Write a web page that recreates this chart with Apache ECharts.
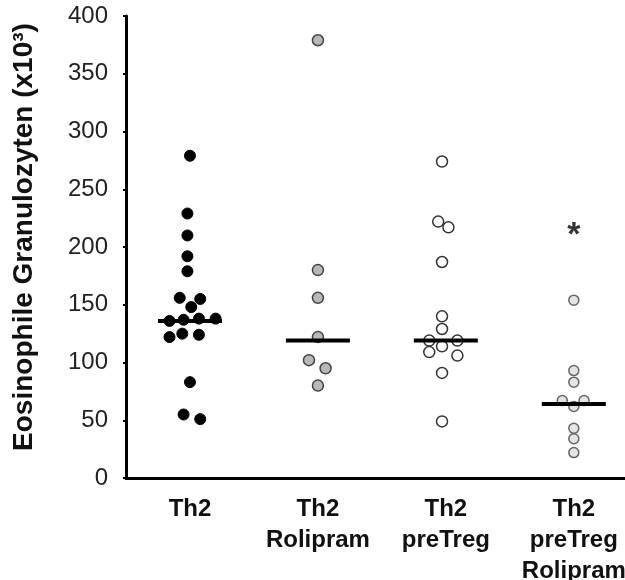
<!DOCTYPE html>
<html>
<head>
<meta charset="utf-8">
<script src="https://cdn.jsdelivr.net/npm/echarts@6/dist/echarts.min.js"></script>
<style>html,body{margin:0;padding:0;background:#fff}#c{width:625px;height:580px}</style>
</head>
<body>
<div id="c"></div>
<script>
// ---- data ----
var categories = ['Th2', 'Th2\nRolipram', 'Th2\npreTreg', 'Th2\npreTreg\nRolipram'];
var yTicks = [0, 50, 100, 150, 200, 250, 300, 350, 400];

var th2Values = [279, 229, 210, 192, 179, 156, 155, 148, 136, 137, 138, 138, 122, 125, 124, 83, 55, 51];
var th2Jitter = [0, -0.02, -0.02, -0.02, -0.02, -0.08, 0.08, 0.01, -0.16, -0.05, 0.07, 0.2, -0.16, -0.06, 0.07, 0, -0.05, 0.08];

var rolValues = [379, 180, 156, 122, 102, 95, 80];
var rolJitter = [0, 0, 0, 0, -0.07, 0.06, 0];

var tregValues = [274, 222, 217, 187, 140, 129, 119, 119, 114, 109, 106, 91, 49];
var tregJitter = [-0.03, -0.06, 0.02, -0.03, -0.03, -0.03, -0.13, 0.09, -0.03, -0.13, 0.09, -0.03, -0.03];

var tregRolValues = [154, 93, 83, 67, 67, 62, 43, 34, 22];
var tregRolJitter = [0, 0, 0, -0.09, 0.08, 0, 0, 0, 0];

var medians = [136, 119, 119, 64];

var sigCategory = [3];
var sigValue = [210];
var sigText = ['*'];

// ---- chart ----
function pts(ci, vals, jit) {
  return vals.map(function (v, i) { return [ci + jit[i], v]; });
}

var chart = echarts.init(document.getElementById('c'), null, { renderer: 'canvas' });
var font = 'Liberation Sans, Arial, sans-serif';

chart.setOption({
  animation: false,
  grid: { left: 126, right: 0, top: 16, bottom: 102, containLabel: false, outerBoundsMode: 'none' },
  xAxis: {
    type: 'value', min: -0.5, max: 3.4,
    splitLine: { show: false },
    axisLine: { show: true, onZero: false, lineStyle: { color: '#000', width: 3 } },
    axisTick: { show: false },
    axisLabel: {
      customValues: [0, 1, 2, 3],
      formatter: function (v) { return categories[Math.round(v)]; },
      fontFamily: font, fontWeight: 'bold', fontSize: 24, lineHeight: 31,
      color: '#111', margin: 16, align: 'center'
    }
  },
  yAxis: {
    type: 'value', min: 0, max: 400, interval: 50,
    splitLine: { show: false },
    axisLine: { show: true, onZero: false, lineStyle: { color: '#000', width: 3 } },
    axisTick: { show: true, inside: false, length: 3, lineStyle: { color: '#000', width: 2 } },
    axisLabel: {
      fontFamily: font, fontSize: 24, color: '#222', margin: 18,
      formatter: function (v) { return yTicks.indexOf(v) >= 0 ? String(v) : ''; }
    },
    name: 'Eosinophile Granulozyten (x10³)',
    nameLocation: 'middle', nameGap: 88, nameRotate: 90,
    nameTextStyle: {
      fontFamily: font, fontWeight: 'bold', fontSize: 28, color: '#111',
      padding: [0, 0, 0, 20]
    }
  },
  series: [
    {
      type: 'scatter', symbol: 'circle', symbolSize: 11, z: 3,
      itemStyle: { color: '#000', borderColor: '#000', borderWidth: 1, opacity: 1 },
      data: pts(0, th2Values, th2Jitter)
    },
    {
      type: 'scatter', symbol: 'circle', symbolSize: 11, z: 3,
      itemStyle: { color: '#b8b8b8', borderColor: '#444', borderWidth: 1.5, opacity: 1 },
      data: pts(1, rolValues, rolJitter)
    },
    {
      type: 'scatter', symbol: 'circle', symbolSize: 11, z: 3,
      itemStyle: { color: '#fff', borderColor: '#333', borderWidth: 1.5, opacity: 1 },
      data: pts(2, tregValues, tregJitter)
    },
    {
      type: 'scatter', symbol: 'circle', symbolSize: 10, z: 3,
      itemStyle: { color: '#e4e4e4', borderColor: '#666', borderWidth: 1.5, opacity: 1 },
      data: pts(3, tregRolValues, tregRolJitter)
    },
    {
      type: 'scatter', symbol: 'rect', symbolSize: [64, 4], z: 4,
      itemStyle: { color: '#000', opacity: 1 },
      data: medians.map(function (m, i) { return [i, m]; })
    },
    {
      type: 'scatter', symbolSize: 0, z: 5,
      label: {
        show: true, position: 'inside',
        formatter: function (p) { return sigText[p.dataIndex]; },
        fontFamily: font, fontWeight: 'bold', fontSize: 34, color: '#000'
      },
      data: sigCategory.map(function (c, i) { return [c, sigValue[i]]; })
    }
  ]
});
</script>
</body>
</html>
